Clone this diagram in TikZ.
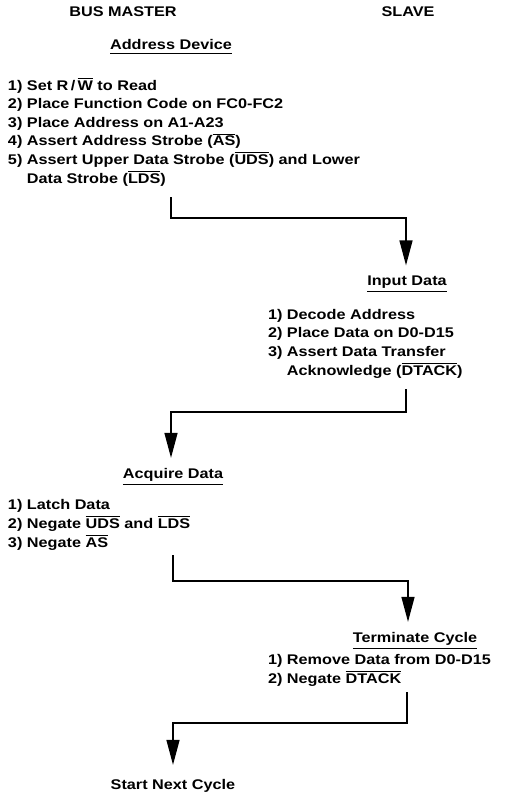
\documentclass[tikz,border=0pt]{standalone}
\usepackage{fontspec}
\setmainfont{Liberation Sans}[FakeStretch=1.16]
\usetikzlibrary{arrows.meta}
\newcommand\ovl[1]{\vbox{\hrule height 1.1pt\kern1.4pt\hbox{#1}}}
\newcommand\uln[1]{\vtop{\hbox{#1}\kern2.8pt\hrule height 1.3pt}}
\tikzset{
  txt/.style={font=\bfseries\fontsize{14}{18.6}\selectfont, inner sep=0pt, outer sep=0pt},
  lst/.style={txt, anchor=base west, align=left},
  head/.style={txt, anchor=base},
  flow/.style={line width=1.4pt, -{Triangle[width=13pt,length=25pt]}},
}
\begin{document}
\begin{tikzpicture}[x=1pt,y=-1pt]
\useasboundingbox (0,0) rectangle (505,792);
% column titles
\node[head] (bm) at (123,17) {BUS MASTER};
\node[head] (sl) at (408,17) {SLAVE};
% address device
\node[head] (addr) at (171,50) {\uln{Address Device}};
% (anchor base = baseline of the last line)
\node[lst] (alist) at (8,183) {1) Set R\,/\,\ovl{W} to Read\\
2) Place Function Code on FC0-FC2\\
3) Place Address on A1-A23\\
4) Assert Address Strobe (\ovl{AS})\\
5) Assert Upper Data Strobe (\ovl{UDS}) and Lower\\
\phantom{5) }Data Strobe (\ovl{LDS})};
% input data
\node[head] (inp) at (407,285) {\uln{Input Data}};
\node[lst] (ilist) at (268,375) {1) Decode Address\\
2) Place Data on D0-D15\\
3) Assert Data Transfer\\
\phantom{3) }Acknowledge (\ovl{DTACK})};
% acquire data
\node[head] (acq) at (173,478) {\uln{Acquire Data}};
\node[lst] (qlist) at (8,547) {1) Latch Data\\
2) Negate \ovl{UDS} and \ovl{LDS}\\
3) Negate \ovl{AS}};
% terminate cycle
\node[head] (term) at (415,642) {\uln{Terminate Cycle}};
\node[lst] (tlist) at (268,683) {1) Remove Data from D0-D15\\
2) Negate \ovl{DTACK}};
% start next cycle
\node[head] (start) at (173,789) {Start Next Cycle};
% connector start points
\coordinate (s1) at (171,197);
\coordinate (s2) at (406,389);
\coordinate (s3) at (173,555);
\coordinate (s4) at (407,692);
% connectors
\draw[flow] (s1) -- ++(0,21) -| ([xshift=-1pt,yshift=10pt]inp.north);
\draw[flow] (s2) -- ++(0,23) -| ([xshift=-2pt,yshift=10pt]acq.north);
\draw[flow] (s3) -- ++(0,26) -| ([xshift=-7pt,yshift=10pt]term.north);
\draw[flow] (s4) -- ++(0,31) -| ([yshift=14pt]start.north);
\end{tikzpicture}
\end{document}
